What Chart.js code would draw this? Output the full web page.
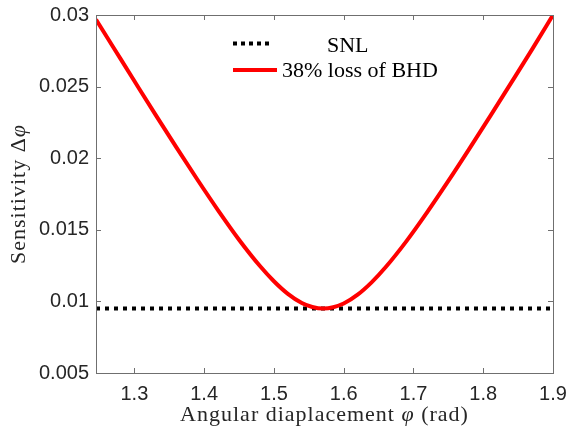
<!DOCTYPE html>
<html><head><meta charset="utf-8">
<script src="https://cdn.jsdelivr.net/npm/chart.js@4.4.1/dist/chart.umd.min.js"></script>
<style>html,body{margin:0;padding:0;background:#fff}#wrap{width:569px;height:435px;position:relative}</style>
</head><body><div id="wrap"><canvas id="c" width="569" height="435"></canvas></div>
<script>
// ---- data ----
const phiValues = [1.245, 1.27, 1.30, 1.33, 1.36, 1.39, 1.42, 1.45, 1.48, 1.50, 1.52, 1.54, 1.555, 1.5708, 1.585, 1.60, 1.62, 1.64, 1.66, 1.69, 1.72, 1.75, 1.78, 1.81, 1.84, 1.87, 1.90];
const bhdLossValues = [0.02968, 0.02773, 0.02539, 0.02306, 0.02077, 0.01853, 0.01636, 0.01431, 0.01247, 0.01141, 0.01053, 0.00989, 0.00961, 0.0095, 0.00959, 0.00985, 0.01047, 0.01133, 0.01238, 0.01421, 0.01625, 0.01841, 0.02065, 0.02294, 0.02526, 0.0276, 0.0300];
const snlLevel = 0.0095;
const xRange = [1.245, 1.9];
const yRange = [0.005, 0.03];
const xTicks = [1.3, 1.4, 1.5, 1.6, 1.7, 1.8, 1.9];
const xTickLabels = ['1.3', '1.4', '1.5', '1.6', '1.7', '1.8', '1.9'];
const yTicks = [0.005, 0.01, 0.015, 0.02, 0.025, 0.03];
const yTickLabels = ['0.005', '0.01', '0.015', '0.02', '0.025', '0.03'];
const seriesLabels = ['SNL', '38% loss of BHD'];
const xTitleParts = ['Angular diaplacement ', 'φ', ' (rad)'];
const yTitleParts = ['Sensitivity Δ', 'φ'];

const AXIS_COLOR = '#6f6f6f';
const TEXT_COLOR = '#262626';
const SERIF = '"Liberation Serif", "Times New Roman", serif';
const SANS = '"Liberation Sans", Arial, Helvetica, sans-serif';

function drawParts(ctx, parts, x, y) {
  let w = 0;
  const fonts = parts.map((p, i) => (i % 2 === 1 ? 'italic ' : '') + '22px ' + SERIF);
  parts.forEach((p, i) => { ctx.font = fonts[i]; w += ctx.measureText(p).width; });
  let cx = x - w / 2;
  parts.forEach((p, i) => { ctx.font = fonts[i]; ctx.fillText(p, cx, y); cx += ctx.measureText(p).width; });
}

const decor = {
  id: 'decor',
  afterDraw(chart) {
    const ctx = chart.ctx;
    const a = chart.chartArea;
    const xs = chart.scales.x, ys = chart.scales.y;
    ctx.save();
    ctx.strokeStyle = AXIS_COLOR;
    ctx.lineWidth = 1;
    ctx.setLineDash([]);
    ctx.strokeRect(Math.round(a.left) + 0.5, Math.round(a.top) + 0.5, Math.round(a.right - a.left), Math.round(a.bottom - a.top));
    const tl = 5;
    ctx.beginPath();
    xTicks.forEach(v => {
      const px = Math.round(xs.getPixelForValue(v)) + 0.5;
      ctx.moveTo(px, a.bottom); ctx.lineTo(px, a.bottom - tl);
      ctx.moveTo(px, a.top); ctx.lineTo(px, a.top + tl);
    });
    yTicks.forEach(v => {
      const py = Math.round(ys.getPixelForValue(v)) + 0.5;
      ctx.moveTo(a.left, py); ctx.lineTo(a.left + tl, py);
      ctx.moveTo(a.right, py); ctx.lineTo(a.right - tl, py);
    });
    ctx.stroke();

    ctx.fillStyle = TEXT_COLOR;
    ctx.textBaseline = 'alphabetic';
    ctx.textAlign = 'left';
    try { ctx.letterSpacing = '1px'; } catch (e) {}
    drawParts(ctx, xTitleParts, (a.left + a.right) / 2, 421);
    ctx.save();
    ctx.translate(25, (a.top + a.bottom) / 2);
    ctx.rotate(-Math.PI / 2);
    drawParts(ctx, yTitleParts, 0, 0);
    ctx.restore();
    try { ctx.letterSpacing = '0px'; } catch (e) {}

    const ds = chart.data.datasets;
    ctx.lineCap = 'butt';
    ctx.strokeStyle = ds[1].borderColor;
    ctx.lineWidth = 4;
    ctx.setLineDash([4, 4]);
    ctx.beginPath(); ctx.moveTo(233, 43.5); ctx.lineTo(273, 43.5); ctx.stroke();
    ctx.setLineDash([]);
    ctx.strokeStyle = ds[0].borderColor;
    ctx.beginPath(); ctx.moveTo(233, 70); ctx.lineTo(277, 70); ctx.stroke();
    ctx.font = '22px ' + SERIF;
    ctx.fillStyle = '#000';
    ctx.fillText(ds[1].label, 327, 51.5);
    ctx.fillText(ds[0].label, 282, 77);
    ctx.restore();
  }
};

new Chart(document.getElementById('c'), {
  type: 'scatter',
  data: {
    datasets: [
      {
        label: seriesLabels[1],
        data: phiValues.map((x, i) => ({ x: x, y: bhdLossValues[i] })),
        showLine: true,
        borderColor: '#ff0000',
        borderWidth: 4,
        pointRadius: 0,
        cubicInterpolationMode: 'monotone',
        order: 0
      },
      {
        label: seriesLabels[0],
        data: xRange.map(x => ({ x: x, y: snlLevel })),
        showLine: true,
        borderColor: '#000000',
        borderWidth: 4,
        borderDash: [4, 5],
        borderCapStyle: 'butt',
        pointRadius: 0,
        order: 1
      }
    ]
  },
  options: {
    responsive: false,
    animation: false,
    events: [],
    layout: { padding: { top: 15, right: 16, left: 0, bottom: 0 } },
    plugins: { legend: { display: false }, tooltip: { enabled: false }, title: { display: false } },
    scales: {
      x: {
        type: 'linear', min: xRange[0], max: xRange[1],
        afterBuildTicks: s => { s.ticks = xTicks.map(v => ({ value: v })); },
        afterFit: s => { s.height = 62; s.paddingRight = 0; s.paddingLeft = 0; },
        grid: { display: false, drawTicks: false },
        border: { display: false },
        ticks: {
          autoSkip: false, maxRotation: 0, padding: 9, color: TEXT_COLOR,
          font: { family: SANS, size: 20 },
          callback: v => { const i = xTicks.findIndex(t => Math.abs(t - v) < 1e-9); return i >= 0 ? xTickLabels[i] : ''; }
        }
      },
      y: {
        type: 'linear', min: yRange[0], max: yRange[1],
        afterBuildTicks: s => { s.ticks = yTicks.map(v => ({ value: v })); },
        afterFit: s => { s.width = 96; s.paddingTop = 0; s.paddingBottom = 0; },
        grid: { display: false, drawTicks: false },
        border: { display: false },
        ticks: {
          autoSkip: false, padding: 7, color: TEXT_COLOR,
          font: { family: SANS, size: 20 },
          callback: v => { const i = yTicks.findIndex(t => Math.abs(t - v) < 1e-9); return i >= 0 ? yTickLabels[i] : ''; }
        }
      }
    }
  },
  plugins: [decor]
});
</script>
</body></html>
